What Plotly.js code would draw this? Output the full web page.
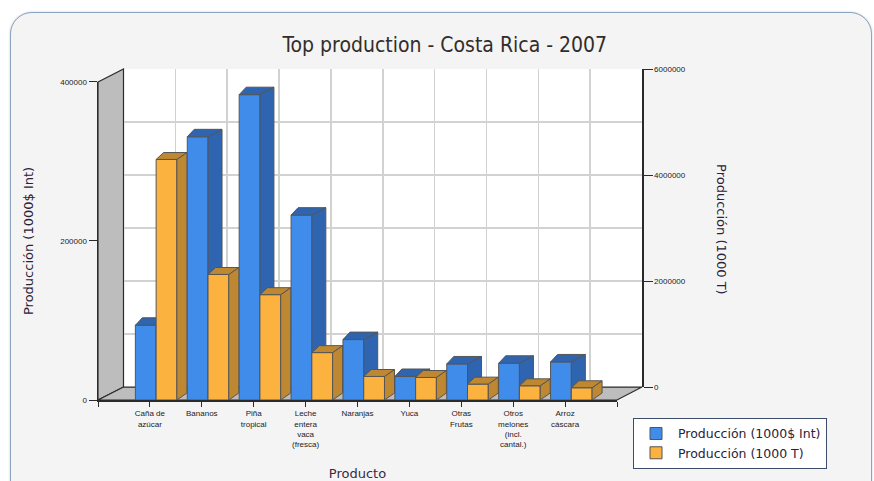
<!DOCTYPE html>
<html>
<head>
<meta charset="utf-8">
<script src="https://cdn.plot.ly/plotly-3.0.1.min.js"></script>
<style>
  html, body { margin:0; padding:0; background:#ffffff; width:874px; height:481px; overflow:hidden; }
  #panel { position:absolute; left:10px; top:12px; width:860px; height:520px; background:#f4f4f4;
           border:1.5px solid #8ea3bf; border-radius:22px; box-shadow: 0 0 2px rgba(120,140,170,0.5); }
  #chart { position:absolute; left:0; top:0; width:874px; height:481px; }
</style>
</head>
<body>
<div id="panel"></div>
<div id="chart"></div>
<script>
// ---- data ----
const categories = ["Caña de azúcar", "Bananos", "Piña tropical", "Leche entera vaca (fresca)",
                    "Naranjas", "Yuca", "Otras Frutas", "Otros melones (incl. cantal.)", "Arroz cáscara"];
const tickLabels = ["Caña de<br>azúcar", "Bananos", "Piña<br>tropical", "Leche<br>entera<br>vaca<br>(fresca)",
                    "Naranjas", "Yuca", "Otras<br>Frutas", "Otros<br>melones<br>(incl.<br>cantal.)", "Arroz<br>cáscara"];
const valueIntl = [94000, 331000, 384000, 232500, 76000, 29600, 45400, 46200, 47900];     // Producción (1000$ Int)
const valueTonnes = [4537000, 2368000, 1987000, 894000, 444000, 425000, 300000, 268000, 231000]; // Producción (1000 T)
const seriesNames = ["Producción (1000$ Int)", "Producción (1000 T)"];
const chartTitle = "Top production - Costa Rica - 2007";
const xTitle = "Producto";

// ---- geometry (pixels of the layout) ----
const L = 98, R = 874 - 642, T = 69, B = 481 - 402;
const W = 874 - L - R, H = 481 - T - B;
const pxX = 519 / 10;            // px per category unit on front plane
const pxY1 = 320 / 400000;       // px per unit (left axis)
const pxY2 = 320 / 6000000;      // px per unit (right axis)
const xs = categories.map((c, i) => i + 1);

function px2paperX(p) { return (p - L) / W; }
function px2paperY(p) { return (481 - B - p) / H; }

function faces(vals, off, w, dxLpx, dxRpx, dypx, pxPerY) {
  const dxL = dxLpx / pxX, dxR = dxRpx / pxX, dy = dypx / pxPerY;
  const top = {x: [], y: []}, side = {x: [], y: []};
  vals.forEach((v, i) => {
    const x0 = xs[i] + off, x1 = x0 + w;
    top.x.push(x0, x1, x1 + dxR, x0 + dxL, x0, null);
    top.y.push(v, v, v + dy, v + dy, v, null);
    side.x.push(x1, x1 + dxR, x1 + dxR, x1, x1, null);
    side.y.push(0, dy, v + dy, v, 0, null);
  });
  return {top, side};
}

const blue = "#408CEB", blueDark = "#2E64B0", orange = "#FBB23E", orangeDark = "#BE8732", edge = "#555555";
const bw = 0.4, blueOff = -0.28, orangeOff = 0.12;
const fb = faces(valueIntl, blueOff, bw, 7, 14, 7.5, pxY1);
const fo = faces(valueTonnes, orangeOff, bw, 7.5, 10, 7, pxY2);

function poly(f, color, ya) {
  return {type: "scatter", mode: "lines", x: f.x, y: f.y, xaxis: "x2", yaxis: ya,
          fill: "toself", fillcolor: color, line: {color: edge, width: 1},
          showlegend: false, hoverinfo: "skip"};
}

const traces = [
  // back plane (walls / grid / right axis)
  {type: "scatter", x: [], y: [], xaxis: "x", yaxis: "y", showlegend: false, hoverinfo: "skip"},
  // front plane
  {type: "bar", name: seriesNames[0], x: xs, y: valueIntl, xaxis: "x2", yaxis: "y2",
   width: bw, offset: blueOff, marker: {color: blue, line: {color: edge, width: 1}}},
  poly(fb.side, blueDark, "y2"),
  poly(fb.top, blueDark, "y2"),
  {type: "bar", name: seriesNames[1], x: xs, y: valueTonnes, xaxis: "x2", yaxis: "y3",
   width: bw, offset: orangeOff, marker: {color: orange, line: {color: edge, width: 1}}},
  poly(fo.side, orangeDark, "y3"),
  poly(fo.top, orangeDark, "y3")
];

const tickFont = {family: "Liberation Sans, Arial, sans-serif", size: 8, color: "#222"};
const labFont = {family: "DejaVu Sans, Verdana, sans-serif", size: 13, color: "#2a2238"};
const grid = "#d2d2d2", dark = "#2a2a2a";

const pBL = [px2paperX(98), px2paperY(402)], pTL = [px2paperX(98), px2paperY(82)];
const bTL = [px2paperX(123.5), px2paperY(69)], bBL = [px2paperX(123.5), px2paperY(389)];
const bBR = [px2paperX(642), px2paperY(389)], pBR = [px2paperX(617), px2paperY(402)];
function path(pts) { return "M" + pts.map(p => p[0] + "," + p[1]).join(" L") + " Z"; }

const shapes = [
  {type: "rect", xref: "paper", yref: "paper", x0: bBL[0], x1: bBR[0], y0: bBL[1], y1: bTL[1],
   fillcolor: "#ffffff", line: {width: 0}, layer: "below"},
  {type: "path", xref: "paper", yref: "paper", path: path([pTL, bTL, bBL, pBL]),
   fillcolor: "#bdbdbd", line: {color: dark, width: 1.2}, layer: "below"},
  {type: "path", xref: "paper", yref: "paper", path: path([pBL, bBL, bBR, pBR]),
   fillcolor: "#bdbdbd", line: {color: dark, width: 1.2}, layer: "below"}
];

const layout = {
  width: 874, height: 481,
  margin: {l: L, r: R, t: T, b: B, pad: 0},
  paper_bgcolor: "rgba(0,0,0,0)", plot_bgcolor: "rgba(0,0,0,0)",
  title: {text: chartTitle, x: 0.509, xanchor: "center", y: 0.907, yanchor: "middle",
          font: {family: "DejaVu Sans Condensed, DejaVu Sans, sans-serif", size: 21, color: "#332d2a"}},
  barmode: "overlay",
  showlegend: true,
  legend: {x: px2paperX(633), y: px2paperY(420), xanchor: "left", yanchor: "top",
           bgcolor: "#ffffff", bordercolor: "#3c4d6b", borderwidth: 1, itemwidth: 34,
           font: {family: "DejaVu Sans, Verdana, sans-serif", size: 12.5, color: "#2a2238"},
           tracegroupgap: 0},
  // back plane
  xaxis: {domain: [px2paperX(123.5), 1], range: [0, 10], anchor: "y", dtick: 1, tick0: 0,
          showgrid: true, gridcolor: grid, gridwidth: 1.5, showticklabels: false, ticks: "",
          zeroline: false, showline: false, fixedrange: true},
  yaxis: {domain: [px2paperY(389), 1], range: [0, 6000000], anchor: "x", side: "right",
          tickvals: [0, 2000000, 4000000, 6000000], tickformat: "d",
          ticks: "outside", ticklen: 9, tickcolor: dark, tickfont: tickFont,
          showline: true, linecolor: dark, linewidth: 1.5,
          showgrid: true, gridcolor: grid, gridwidth: 1.5,
          minor: {dtick: 1000000, tick0: 0, showgrid: true, gridcolor: grid, gridwidth: 1.5, ticks: ""},
          zeroline: false, fixedrange: true},
  // front plane
  xaxis2: {domain: [0, px2paperX(617)], range: [0, 10], anchor: "y2",
           tickvals: [0].concat(xs, [10]), ticktext: [""].concat(tickLabels, [""]),
           ticks: "outside", ticklen: 5, tickcolor: dark, tickfont: tickFont, tickangle: 0,
           showline: true, linecolor: dark, linewidth: 1.5, showgrid: false, zeroline: false,
           title: {text: xTitle, font: {family: "DejaVu Sans, Verdana, sans-serif", size: 13, color: "#3a2848"}, standoff: 21},
           fixedrange: true},
  yaxis2: {domain: [0, 320 / H], range: [0, 400000], anchor: "x2",
           tickvals: [0, 200000, 400000], tickformat: "d",
           ticks: "outside", ticklen: 8, tickcolor: dark, tickfont: tickFont,
           showline: true, linecolor: dark, linewidth: 1.5, showgrid: false, zeroline: false,
           title: {text: seriesNames[0], font: labFont, standoff: 23}, fixedrange: true},
  yaxis3: {overlaying: "y2", range: [0, 6000000], anchor: "x2", visible: false, fixedrange: true},
  shapes: shapes,
  annotations: [
    {text: seriesNames[1], xref: "paper", yref: "paper", x: px2paperX(722), y: px2paperY(230),
     xanchor: "center", yanchor: "middle", textangle: 90, showarrow: false, font: labFont}
  ]
};

Plotly.newPlot("chart", traces, layout, {displayModeBar: false, staticPlot: true});
</script>
</body>
</html>
